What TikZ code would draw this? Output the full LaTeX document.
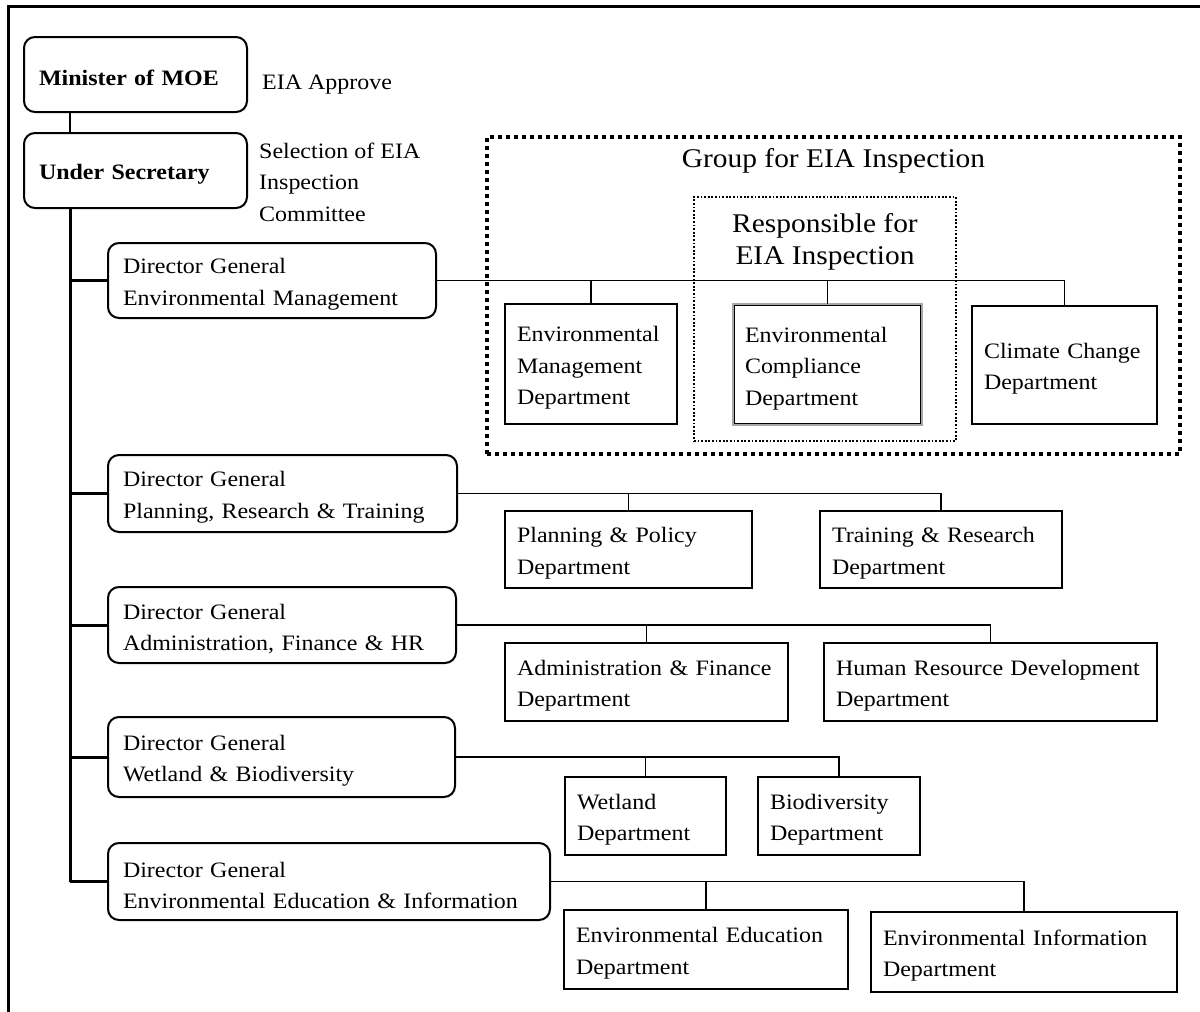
\documentclass[tikz,border=0pt]{standalone}
\usepackage{fontspec}
\setmainfont{Liberation Serif}[FakeStretch=1.09]
\newcommand\bodyfnt{\fontsize{22}{31.5}\selectfont}
\newcommand\titlefnt{\fontsize{27}{32}\selectfont}
\newcommand\tp{\rule{0pt}{23pt}}
\begin{document}
\hyphenpenalty=10000 \exhyphenpenalty=10000
\begin{tikzpicture}[x=1pt,y=-1pt,
  box/.style={anchor=north west, outer sep=0pt, inner ysep=0pt, align=left, font=\bodyfnt},
  dept/.style={box, draw, line width=2.6pt, inner xsep=12pt},
  rbox/.style={box, draw, line width=2pt, rounded corners=11pt, inner xsep=15pt},
  conn/.style={line width=1.6pt},
  trunk/.style={line width=3pt},
  plain/.style={align=left, font=\bodyfnt, inner sep=0pt},
  grpbox/.style={anchor=north west, outer sep=0pt, inner sep=0pt, draw, line width=3.5pt, dash pattern=on 4pt off 4pt},
  respbox/.style={anchor=north west, outer sep=0pt, inner sep=0pt, draw, line width=1.5pt, dash pattern=on 1.8pt off 1.8pt},
  title/.style={align=center, font=\titlefnt, inner sep=0pt}
]
\useasboundingbox (0,0) rectangle (1200,1012);
% outer frame
\draw[line width=3pt] (8,1012) -- (8,6) -- (1200,6);

% dotted groups
\node[grpbox, minimum width=693pt, minimum height=317pt] (grp) at (487,137) {};
\node[respbox, minimum width=262pt, minimum height=244pt] (resp) at (694,197) {};
\node[title] (grpt) at (833.5,161) {Group for EIA Inspection};
\node[title] (respt) at (825,242) {Responsible for\\EIA Inspection};

% top
\node[rbox, text width=193pt, minimum height=75pt] (min) at (24,37) {\tp\textbf{Minister of MOE}};
\node[rbox, text width=193pt, minimum height=75pt] (us) at (24,133) {\tp\textbf{Under Secretary}};
\node[plain, anchor=west] (appr) at (262,85) {EIA Approve};
\node[plain, anchor=west] (sel) at (259,182) {Selection of EIA\\Inspection\\Committee};

% director generals
\node[rbox, text width=298pt, minimum height=75pt] (dg1) at (108,243) {\tp Director General\\Environmental Management};
\node[rbox, text width=319pt, minimum height=77pt] (dg2) at (108,455) {\tp Director General\\Planning, Research \& Training};
\node[rbox, text width=318pt, minimum height=76pt] (dg3) at (108,587) {\tp Director General\\Administration, Finance \& HR};
\node[rbox, text width=317pt, minimum height=80pt] (dg4) at (108,717) {\tp Director General\\Wetland \& Biodiversity};
\node[rbox, text width=412pt, minimum height=77pt] (dg5) at (108,843) {\tp Director General\\Environmental Education \& Information};

% departments
\node[dept, text width=148pt, minimum height=120pt] (em) at (505,304) {\tp Environmental\\Management\\Department};
\node[dept, draw=gray!70, text width=165pt, minimum height=121pt] (ec) at (733,304) {\tp Environmental\\Compliance\\Department};
\draw[line width=1pt] ([shift={(1.6,1.6)}]ec.north west) rectangle ([shift={(-1.6,-1.6)}]ec.south east);
\node[dept, text width=161pt, minimum height=118pt] (cc) at (972,306) {\tp Climate Change\\Department};

\node[dept, text width=223pt, minimum height=77pt] (pp) at (505,511) {\tp Planning \& Policy\\Department};
\node[dept, text width=218pt, minimum height=77pt] (tr) at (820,511) {\tp Training \& Research\\Department};

\node[dept, text width=259pt, minimum height=78pt] (af) at (505,643) {\tp Administration \& Finance\\Department};
\node[dept, text width=309pt, minimum height=78pt] (hr) at (824,643) {\tp Human Resource Development\\Department};

\node[dept, text width=137pt, minimum height=78pt] (wd) at (565,777) {\tp Wetland\\Department};
\node[dept, text width=138pt, minimum height=78pt] (bd) at (758,777) {\tp Biodiversity\\Department};

\node[dept, text width=260pt, minimum height=79pt] (ee) at (564,910) {\tp Environmental Education\\Department};
\node[dept, text width=282pt, minimum height=80pt] (ei) at (871,912) {\tp Environmental Information\\Department};

% trunk
\coordinate (t0) at (70,208);
\draw[conn] (min.south -| t0) -- (us.north -| t0);
\draw[trunk] (t0) -- (t0 |- dg5.west);
\foreach \d in {dg1,dg2,dg3,dg4,dg5}
  \draw[trunk] (t0 |- \d.west) -- (\d.west);

% branches
\draw[conn] (dg1.east) -| (cc.north);
\draw[conn] (dg1.east -| em.north) -- (em.north);
\draw[conn] (dg1.east -| ec.north) -- (ec.north);

\draw[conn] (dg2.east) -| (tr.north);
\draw[conn] (dg2.east -| pp.north) -- (pp.north);

\draw[conn] (dg3.east) -| (hr.north);
\draw[conn] (dg3.east -| af.north) -- (af.north);

\draw[conn] (dg4.east) -| (bd.north);
\draw[conn] (dg4.east -| wd.north) -- (wd.north);

\draw[conn] (dg5.east) -| (ei.north);
\draw[conn] (dg5.east -| ee.north) -- (ee.north);
\end{tikzpicture}
\end{document}
